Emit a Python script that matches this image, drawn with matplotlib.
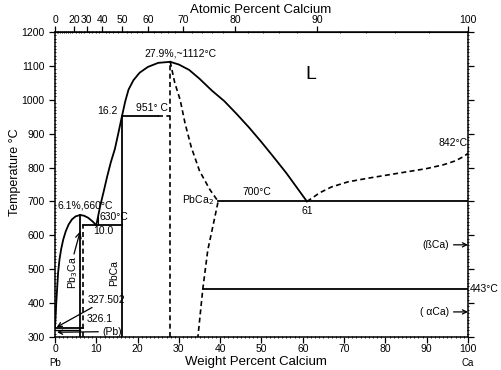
import numpy as np
import matplotlib.pyplot as plt

plt.rcParams['font.family'] = ['Liberation Sans', 'DejaVu Sans']

# Pb-Ca phase diagram (wt% Ca, deg C)
liq_pb3ca_l = [(0, 327.5), (0.15, 360), (0.3, 400), (0.5, 440), (0.75, 490), (1.1, 530),
               (1.5, 560), (2.0, 588), (2.6, 612), (3.3, 632), (4.1, 647), (5.0, 656), (6.1, 660)]
liq_pb3ca_r = [(6.1, 660), (7.0, 658), (8.0, 652), (9.0, 642), (10.0, 630)]
liq_pbca = [(10.0, 630), (10.5, 660), (11.0, 690), (11.8, 730), (12.6, 772), (13.5, 815),
            (14.5, 855), (15.4, 905), (16.2, 951), (17.0, 995), (17.8, 1030), (19.0, 1058),
            (20.5, 1080), (22.5, 1097), (25.0, 1109), (27.9, 1112)]
liq_right = [(27.9, 1112), (30.0, 1104), (32.5, 1088), (35, 1062), (38, 1027), (41, 996),
             (44, 958), (47, 918), (50, 875), (53, 830), (56, 784), (58.5, 742), (61, 700)]
liq_ca = [(61, 700), (62.5, 712), (64, 725), (67, 743), (71, 758), (76, 769), (83.5, 784),
          (90, 797), (94, 808), (97, 820), (99, 833), (100, 842)]
pbca2_bound = [(27.9, 1112), (29, 1050), (30.3, 1000), (31.5, 930), (33, 860), (35, 790),
               (37.5, 735), (39.5, 700), (38.2, 625), (37, 557), (35.8, 443), (34.6, 300)]

M_CA, M_PB = 40.08, 207.2


def wt2at(w):
    w = np.clip(np.asarray(w, dtype=float), 1e-9, 100 - 1e-9)
    n_ca = w / M_CA
    n_pb = (100 - w) / M_PB
    return 100 * n_ca / (n_ca + n_pb)


def at2wt(a):
    a = np.clip(np.asarray(a, dtype=float), 1e-9, 100 - 1e-9)
    m_ca = a * M_CA
    m_pb = (100 - a) * M_PB
    return 100 * m_ca / (m_ca + m_pb)


fig = plt.figure(figsize=(5.01, 3.70), dpi=100)
ax = fig.add_axes([0.1098, 0.0892, 0.8243, 0.8243])

solid = dict(color='black', lw=1.3)
dash = dict(color='black', lw=1.2, ls=(0, (3, 2)))


def line(pts, **kw):
    pts = np.array(pts)
    ax.plot(pts[:, 0], pts[:, 1], **kw)


line(liq_pb3ca_l, **solid)
line(liq_pb3ca_r, **solid)
line(liq_pbca, **solid)
line(liq_right, **solid)
line(liq_ca, **dash)
line(pbca2_bound, **dash)

# invariant lines and compounds
ax.plot([6.1, 6.1], [300, 660], **solid)
ax.plot([6.8, 6.8], [300, 630], **dash)
ax.plot([6.8, 16.2], [630, 630], **solid)
ax.plot([16.2, 16.2], [300, 951], **solid)
ax.plot([16.2, 25.0], [951, 951], **solid)
ax.plot([25.0, 27.9], [951, 951], **dash)
ax.plot([27.9, 27.9], [300, 1112], **dash)
ax.plot([39.5, 100], [700, 700], **solid)
ax.plot([35.8, 100], [443, 443], **solid)
ax.plot([0, 6.8], [326.1, 326.1], **solid)
ax.plot([0, 6.1], [320, 320], color='black', lw=1.0)
ax.plot([10.5, 10.5], [630, 655], color='black', lw=0.8)

ax.set_xlim(0, 100)
ax.set_ylim(300, 1200)
ax.set_xticks(np.arange(0, 101, 10))
ax.set_xticks(np.arange(0, 101, 1), minor=True)
ax.set_yticks(np.arange(300, 1201, 100))
ax.set_yticks(np.arange(300, 1201, 10), minor=True)
ax.tick_params(which='major', direction='out', length=4, width=0.9, labelsize=7.5,
               right=True)
ax.tick_params(which='minor', direction='inout', length=2, width=0.6, right=True)
ax.tick_params(axis='x', pad=1)
for s in ax.spines.values():
    s.set_linewidth(1.1)

sec = ax.secondary_xaxis('top', functions=(wt2at, at2wt))
sec.set_xticks([0, 20, 30, 40, 50, 60, 70, 80, 90, 100])
sec.set_xticks(np.arange(0, 101, 2), minor=True)
sec.tick_params(which='major', direction='out', length=4, width=0.9, labelsize=7.5, pad=1)
sec.tick_params(which='minor', direction='inout', length=2, width=0.6)

fig.text(0.52, 0.973, 'Atomic Percent Calcium', ha='center', va='center', fontsize=9.5)
fig.text(0.51, 0.022, 'Weight Percent Calcium', ha='center', va='center', fontsize=9.5)
fig.text(0.03, 0.535, 'Temperature °C', ha='center', va='center', fontsize=9,
         rotation=90)

fs = 7.5
ax.text(0, 224, 'Pb', ha='center', va='center', fontsize=7, clip_on=False)
ax.text(100, 224, 'Ca', ha='center', va='center', fontsize=7, clip_on=False)
ax.text(62, 1075, 'L', ha='center', va='center', fontsize=14)
ax.text(30.5, 1122, '27.9%,~1112°C', ha='center', va='bottom', fontsize=fs)
ax.text(15.2, 951, '16.2', ha='right', va='bottom', fontsize=fs)
ax.text(23.5, 960, '951° C', ha='center', va='bottom', fontsize=fs)
ax.text(0.5, 672, '6.1%,660°C', ha='left', va='bottom', fontsize=fs)
ax.text(10.8, 638, '630°C', ha='left', va='bottom', fontsize=fs)
ax.text(11.8, 612, '10.0', ha='center', va='center', fontsize=fs)
ax.text(4.4, 490, 'Pb$_3$Ca', ha='center', va='center', rotation=90, fontsize=fs)
ax.text(14.3, 490, 'PbCa', ha='center', va='center', rotation=90, fontsize=fs)
ax.text(34.5, 704, 'PbCa$_2$', ha='center', va='center', fontsize=fs)
ax.text(49, 712, '700°C', ha='center', va='bottom', fontsize=fs)
ax.text(61, 688, '61', ha='center', va='top', fontsize=fs)
ax.text(96.5, 858, '842°C', ha='center', va='bottom', fontsize=fs)
ax.text(100.5, 443, '443°C', ha='left', va='center', fontsize=fs, clip_on=False)
ax.text(7.6, 352, '326.1', ha='left', va='center', fontsize=fs)

ax.annotate('327.502', xy=(0.4, 329), xytext=(7.8, 410), fontsize=fs,
            ha='left', va='center',
            arrowprops=dict(arrowstyle='->', lw=0.9, color='black', shrinkA=0, shrinkB=0))
ax.annotate('(Pb)', xy=(0.5, 314), xytext=(11.5, 316), fontsize=fs,
            ha='left', va='center',
            arrowprops=dict(arrowstyle='->', lw=0.9, color='black', shrinkA=1, shrinkB=0))
ax.annotate('', xy=(6.1, 612), xytext=(4.6, 545),
            arrowprops=dict(arrowstyle='->', lw=0.9, color='black', shrinkA=0, shrinkB=0))
ax.annotate('(ßCa)', xy=(100, 572), xytext=(95.5, 572), fontsize=fs,
            ha='right', va='center',
            arrowprops=dict(arrowstyle='->', lw=0.9, color='black', shrinkA=1, shrinkB=0))
ax.annotate('( αCa)', xy=(100, 374), xytext=(95.5, 374), fontsize=fs,
            ha='right', va='center',
            arrowprops=dict(arrowstyle='->', lw=0.9, color='black', shrinkA=1, shrinkB=0))

fig.savefig('out.png', dpi=100)
